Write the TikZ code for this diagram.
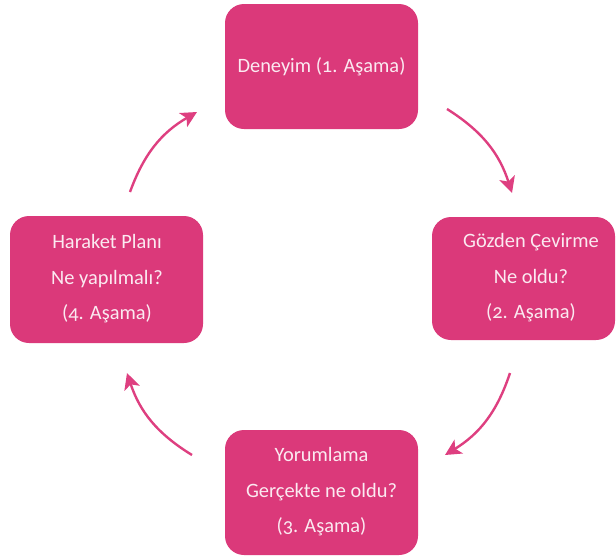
\documentclass[tikz,border=0pt]{standalone}
\usepackage{fontspec}
\setmainfont{Carlito}[Numbers=OldStyle]
\usetikzlibrary{arrows.meta}
\definecolor{boxpink}{HTML}{DB397A}
\definecolor{arrowpink}{HTML}{DE3F80}
\definecolor{txtcol}{HTML}{FBEAF1}
\begin{document}
\begin{tikzpicture}[x=1pt,y=-1pt,
  stagebox/.style={fill=boxpink, rounded corners=19pt, inner sep=0pt},
  stagetext/.style={text=txtcol, align=center, inner sep=0pt, font=\fontsize{20.4}{35.5}\selectfont},
  cyc/.style={draw=arrowpink, line width=2.4pt, -{Stealth[length=16pt,width=16pt,inset=4pt]}}]
\useasboundingbox (0,0) rectangle (616,558);
% boxes
\node[stagebox, minimum width=193pt, minimum height=125pt] (top) at (321.5,66.5) {};
\node[stagebox, minimum width=183pt, minimum height=123pt] (right) at (523.5,278.5) {};
\node[stagebox, minimum width=193pt, minimum height=125pt] (bottom) at (321.5,492.5) {};
\node[stagebox, minimum width=193pt, minimum height=127pt] (left) at (106.5,279.5) {};
% texts
\node[stagetext] (ttop) at (top) {Deneyim (1. Aşama)};
\node[stagetext] (tright) at (531,278) {Gözden Çevirme\\Ne oldu?\\(2. Aşama)};
\node[stagetext] (tbottom) at (321.5,492) {Yorumlama\\Gerçekte ne oldu?\\(3. Aşama)};
\node[stagetext] (tleft) at (107,279) {Haraket Planı\\Ne yapılmalı?\\(4. Aşama)};
% arrows
\coordinate (a1s) at (447,109); \coordinate (a1e) at (512,193);
\coordinate (a2s) at (510,373); \coordinate (a2e) at (445,455);
\coordinate (a3s) at (192,455); \coordinate (a3e) at (127,373);
\coordinate (a4s) at (130,192); \coordinate (a4e) at (197,112);
\draw[cyc] (a1s) to[bend left=20] (a1e);
\draw[cyc] (a2s) to[bend left=20] (a2e);
\draw[cyc] (a3s) to[bend left=20] (a3e);
\draw[cyc] (a4s) to[bend left=20] (a4e);
\end{tikzpicture}
\end{document}
